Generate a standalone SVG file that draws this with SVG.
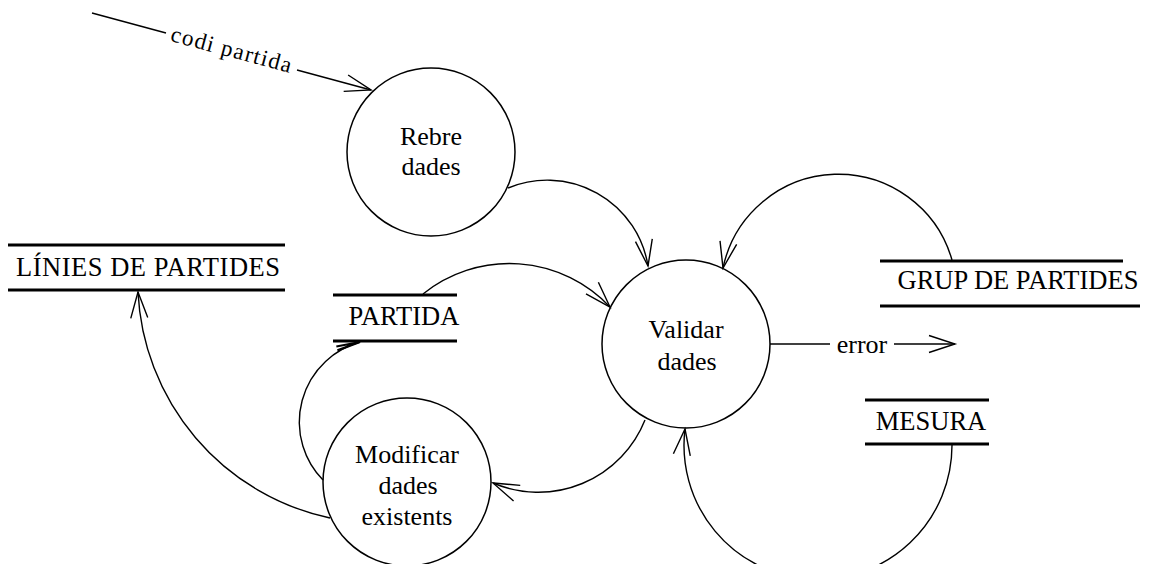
<svg xmlns="http://www.w3.org/2000/svg" width="1150" height="564" viewBox="0 0 1150 564">
  <style>
    .bg { fill: #ffffff; }
    .proc { fill: none; stroke: #000; stroke-width: 1.5; }
    .store { stroke: #000; stroke-width: 3; }
    .flow { fill: none; stroke: #000; stroke-width: 1.4; }
    .lbl { font-family: 'Liberation Serif', 'DejaVu Serif', serif; font-size: 26px; fill: #000; text-anchor: middle; }
    .slbl { font-family: 'Liberation Serif', 'DejaVu Serif', serif; font-size: 26.5px; fill: #000; text-anchor: middle; }
    .tilt { font-family: 'Liberation Serif', 'DejaVu Serif', serif; font-size: 23px; fill: #000; text-anchor: middle; }
  </style>
  <defs>
    <marker id="arrow" markerUnits="userSpaceOnUse" orient="auto" markerWidth="30" markerHeight="20" refX="0" refY="0" viewBox="-28 -10 30 20" overflow="visible">
      <path d="M-26,-8.5 L0,0 L-26,8.5" fill="none" stroke="#000" stroke-width="1.4"/>
    </marker>
    <marker id="arrowNarrow" markerUnits="userSpaceOnUse" orient="auto" markerWidth="30" markerHeight="10" refX="0" refY="0" viewBox="-28 -5 30 10" overflow="visible">
      <path d="M-24,-2 L0,0 L-24,2" fill="none" stroke="#000" stroke-width="2.2"/>
    </marker>
  </defs>

  <rect class="bg" x="0" y="0" width="1150" height="564"/>

  <!-- data flows -->
  <g id="connectors">
    <!-- incoming flow: codi partida -->
    <path class="flow" d="M92,13 L166,33"/>
    <path class="flow" d="M297,70 L371,90" marker-end="url(#arrow)"/>
    <text class="tilt" transform="translate(231,51) rotate(15)" x="0" y="6" textLength="124" lengthAdjust="spacing">codi partida</text>

    <!-- Rebre dades -> Validar dades -->
    <path class="flow" d="M508,188 A102,102 0 0 1 648,266" marker-end="url(#arrow)"/>
    <!-- PARTIDA -> Validar dades -->
    <path class="flow" d="M423,294 A138,138 0 0 1 610,307" marker-end="url(#arrow)"/>
    <!-- GRUP DE PARTIDES -> Validar dades -->
    <path class="flow" d="M952,260 A118,118 0 0 0 723,268" marker-end="url(#arrow)"/>
    <!-- MESURA -> Validar dades -->
    <path class="flow" d="M952,445 A134,134 0 1 1 685,429" marker-end="url(#arrow)"/>
    <!-- Validar dades -> error -->
    <path class="flow" d="M770,344 L830,344"/>
    <path class="flow" d="M894,344 L955,344" marker-end="url(#arrow)"/>
    <text class="lbl" x="862" y="353">error</text>
    <!-- Validar dades -> Modificar dades existents -->
    <path class="flow" d="M645,420 A115,115 0 0 1 493,483" marker-end="url(#arrow)"/>
    <!-- Modificar dades existents -> PARTIDA -->
    <path class="flow" d="M323,480 A83,83 0 0 1 360,342" marker-end="url(#arrowNarrow)"/>
    <!-- Modificar dades existents -> LÍNIES DE PARTIDES -->
    <path class="flow" d="M330,518 A243,243 0 0 1 138,292" marker-end="url(#arrow)"/>
  </g>

  <!-- processes -->
  <g id="rebre-dades">
    <circle class="proc" cx="431" cy="152" r="84"/>
    <text class="lbl" x="431" y="145">Rebre</text>
    <text class="lbl" x="431" y="175">dades</text>
  </g>
  <g id="validar-dades">
    <circle class="proc" cx="686" cy="344" r="84"/>
    <text class="lbl" x="686" y="338">Validar</text>
    <text class="lbl" x="687" y="370">dades</text>
  </g>
  <g id="modificar-dades">
    <circle class="proc" cx="407" cy="482" r="84"/>
    <text class="lbl" x="407" y="463">Modificar</text>
    <text class="lbl" x="408" y="494">dades</text>
    <text class="lbl" x="407" y="525">existents</text>
  </g>

  <!-- data stores -->
  <g id="linies-de-partides">
    <line class="store" x1="8" y1="245" x2="285" y2="245"/>
    <line class="store" x1="8" y1="290" x2="285" y2="290"/>
    <text class="slbl" x="148" y="276" textLength="264" lengthAdjust="spacing">LÍNIES DE PARTIDES</text>
  </g>
  <g id="partida">
    <line class="store" x1="333" y1="295" x2="457" y2="295"/>
    <line class="store" x1="333" y1="341" x2="457" y2="341"/>
    <text class="slbl" x="404" y="325">PARTIDA</text>
  </g>
  <g id="grup-de-partides">
    <line class="store" x1="880" y1="261" x2="1123" y2="261"/>
    <line class="store" x1="880" y1="306" x2="1140" y2="306"/>
    <text class="slbl" x="1018" y="289">GRUP DE PARTIDES</text>
  </g>
  <g id="mesura">
    <line class="store" x1="865" y1="400" x2="989" y2="400"/>
    <line class="store" x1="865" y1="444" x2="989" y2="444"/>
    <text class="slbl" x="931" y="430">MESURA</text>
  </g>
</svg>
